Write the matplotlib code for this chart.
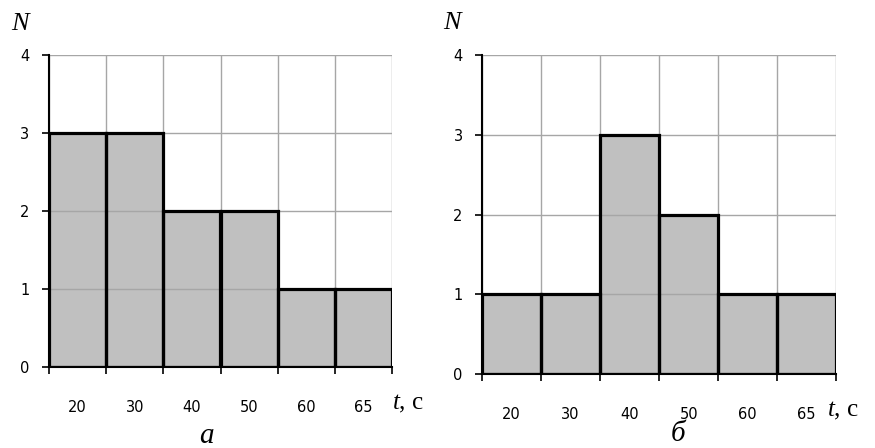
import matplotlib
matplotlib.use("Agg")
import matplotlib.pyplot as plt
import numpy as np

# data
times = ['20', '30', '40', '50', '60', '65']
counts_a = [3, 3, 2, 2, 1, 1]
counts_b = [1, 1, 3, 2, 1, 1]
captions = ['а', 'б']

serif = 'Liberation Serif'
plt.rcParams['mathtext.fontset'] = 'custom'
plt.rcParams['mathtext.it'] = serif + ':italic'
plt.rcParams['mathtext.rm'] = serif

fig = plt.figure(figsize=(8.75, 4.48), dpi=100)
ax_a = fig.add_axes([0.056, 0.181, 0.392, 0.696])
ax_b = fig.add_axes([0.551, 0.165, 0.4046, 0.712])


def draw_panel(ax, counts):
    x = np.arange(len(counts))
    # fill first, grid over it, then the black outlines on top
    ax.bar(x, counts, width=1, align='edge', color='#c0c0c0', edgecolor='none', zorder=1)
    for gx in range(len(counts) + 1):
        ax.axvline(gx, color='#a6a6a6', lw=1, zorder=2)
    for gy in range(1, 5):
        ax.axhline(gy, color='#a6a6a6', lw=1, zorder=2)
    ax.bar(x, counts, width=1, align='edge', fill=False, edgecolor='black', lw=2.3, zorder=3)

    ax.set_xlim(0, len(counts))
    ax.set_ylim(0, 4)
    for s in ['top', 'right']:
        ax.spines[s].set_visible(False)
    for s in ['left', 'bottom']:
        ax.spines[s].set_linewidth(1.5)
        ax.spines[s].set_zorder(4)

    ax.set_yticks(range(5))
    ax.tick_params(axis='y', length=5, width=1.2, pad=9, labelsize=10.5)
    ax.set_xticks(range(len(counts) + 1))
    ax.set_xticklabels([])
    ax.tick_params(axis='x', which='major', length=5, width=1.2)
    ax.set_xticks(x + 0.5, minor=True)
    ax.set_xticklabels(times, minor=True)
    ax.tick_params(axis='x', which='minor', length=0, pad=24, labelsize=10.5)

    ax.text(-0.11, 1.1, 'N', transform=ax.transAxes, fontsize=19, family=serif,
            style='italic', ha='left', va='center')


draw_panel(ax_a, counts_a)
draw_panel(ax_b, counts_b)

ax_a.text(1.0, -0.12, '$t$, с', transform=ax_a.transAxes, fontsize=18,
          family=serif, ha='left', va='center')
ax_b.text(0.975, -0.115, '$t$, с', transform=ax_b.transAxes, fontsize=18,
          family=serif, ha='left', va='center')

fig.text(206 / 875, 1 - 436 / 448, captions[0], fontsize=21, family=serif,
         style='italic', ha='center', va='center')
fig.text(678 / 875, 1 - 434 / 448, captions[1], fontsize=21, family=serif,
         style='italic', ha='center', va='center')

fig.savefig('out.png', dpi=100)
